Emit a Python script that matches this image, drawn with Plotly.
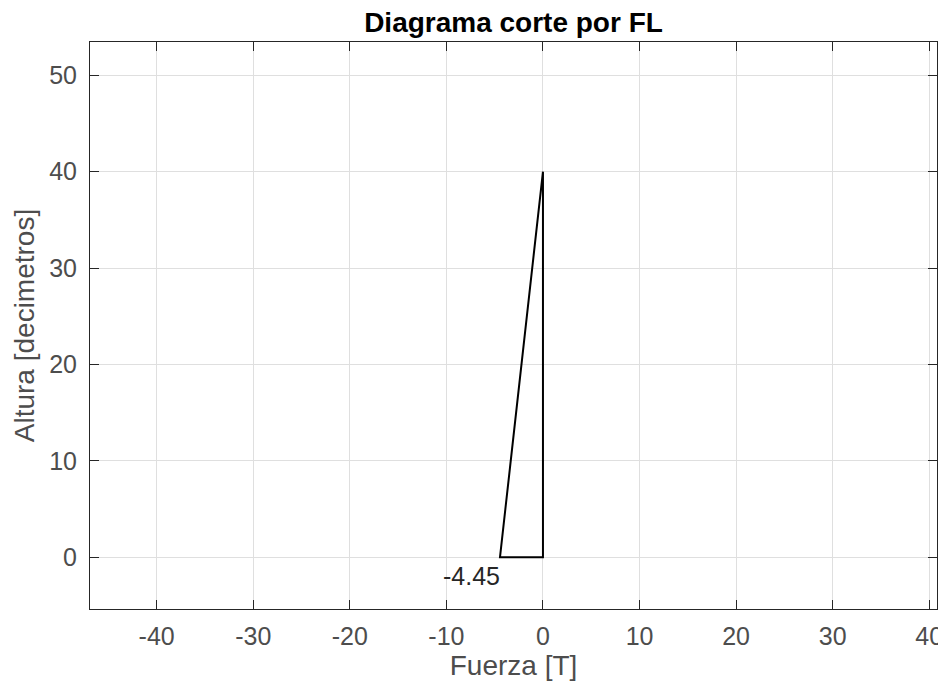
import plotly.graph_objects as go

# Data
fuerza = [0, 0, -4.45, 0]      # T
altura = [40, 0, 0, 40]        # decimetros
label_value = -4.45
xticks = [-40, -30, -20, -10, 0, 10, 20, 30, 40]
yticks = [0, 10, 20, 30, 40, 50]

FONT = "Liberation Sans, Arial"

fig = go.Figure()
fig.add_trace(go.Scatter(x=fuerza, y=altura, mode="lines",
                         line=dict(color="#000000", width=2), showlegend=False,
                         hoverinfo="skip"))

fig.add_annotation(x=label_value, y=0, text=f"{label_value:.2f}", showarrow=False,
                   xanchor="right", yanchor="top", yshift=-3, xshift=2,
                   font=dict(family=FONT, size=25, color="#262626"))

axis_common = dict(showline=True, linecolor="#262626", linewidth=1, mirror="ticks",
                   ticks="inside", ticklen=9, tickcolor="#262626", tickwidth=1,
                   showgrid=True, gridcolor="#dfdfdf", gridwidth=1, zeroline=False,
                   automargin=False,
                   tickfont=dict(family=FONT, size=25, color="#4d4d4d"),
                   title_font=dict(family=FONT, size=28, color="#4d4d4d"))

fig.update_xaxes(range=[-46.9, 40.8], tickvals=xticks, ticktext=[str(v) for v in xticks],
                 ticklabelstandoff=5, title_text="Fuerza [T]", title_standoff=2,
                 **axis_common)
fig.update_yaxes(range=[-5.36, 53.45], tickvals=yticks, ticktext=[str(v) for v in yticks],
                 ticklabelstandoff=7, title_text="Altura [decimetros]", title_standoff=6,
                 **axis_common)

# page body has an 8px default margin, so the figure is sized to end at the window edge
fig.update_layout(
    width=938, height=678,
    margin=dict(l=82, r=9, t=34, b=77),
    paper_bgcolor="white", plot_bgcolor="white",
    title=dict(text="<b>Diagrama corte por FL</b>", x=0.5, xanchor="center",
               xref="paper", yref="container", y=1 - 14 / 678, yanchor="middle",
               font=dict(family=FONT, size=28, color="#000000")),
)

fig.write_html("out.html")
